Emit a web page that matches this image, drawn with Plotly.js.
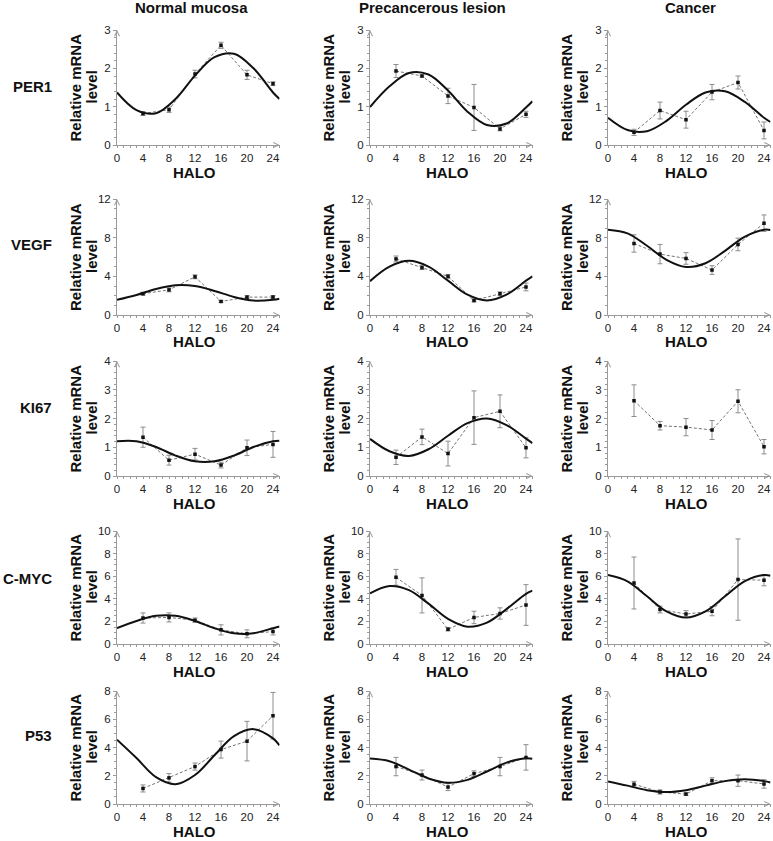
<!DOCTYPE html>
<html>
<head>
<meta charset="utf-8">
<script src="https://cdn.plot.ly/plotly-3.0.1.min.js"></script>
<style>html,body{margin:0;padding:0;background:#fff;}#chart{width:773px;height:841px;}</style>
</head>
<body>
<div id="chart"></div>
<script>
// ---------- data ----------
const hours = [4, 8, 12, 16, 20, 24];
const fitHours = [0, 3, 6, 9, 12, 15, 18, 21, 24, 25];
const xTickLabels = [0, 4, 8, 12, 16, 20, 24];
const columnTitles = ["Normal mucosa", "Precancerous lesion", "Cancer"];
const geneLabels = ["PER1", "VEGF", "KI67", "C-MYC", "P53"];

// PER1
const per1Normal = [0.82, 0.92, 1.85, 2.60, 1.83, 1.60];
const per1NormalErr = [0.05, 0.07, 0.10, 0.08, 0.12, 0.05];
const per1NormalFit = [1.37, 0.91, 0.83, 1.20, 1.81, 2.29, 2.38, 2.00, 1.37, 1.20];
const per1Pre = [1.93, 1.80, 1.28, 0.98, 0.42, 0.80];
const per1PreErr = [0.17, 0.03, 0.20, 0.60, 0.05, 0.08];
const per1PreFit = [0.99, 1.53, 1.88, 1.84, 1.42, 0.87, 0.52, 0.56, 0.98, 1.14];
const per1Cancer = [0.33, 0.90, 0.66, 1.38, 1.63, 0.38];
const per1CancerErr = [0.08, 0.22, 0.22, 0.20, 0.17, 0.22];
const per1CancerFit = [0.71, 0.39, 0.36, 0.63, 1.05, 1.37, 1.40, 1.13, 0.71, 0.60];

// VEGF
const vegfNormal = [2.20, 2.60, 3.95, 1.40, 1.85, 1.85];
const vegfNormalErr = [0.15, 0.20, 0.20, 0.10, 0.15, 0.15];
const vegfNormalFit = [1.57, 2.07, 2.69, 3.07, 2.99, 2.49, 1.87, 1.49, 1.57, 1.68];
const vegfPre = [5.80, 4.90, 4.00, 1.50, 2.20, 2.90];
const vegfPreErr = [0.30, 0.20, 0.20, 0.15, 0.20, 0.40];
const vegfPreFit = [3.50, 5.00, 5.60, 5.00, 3.55, 2.10, 1.50, 2.10, 3.55, 4.00];
const vegfCancer = [7.40, 6.30, 5.85, 4.65, 7.30, 9.50];
const vegfCancerErr = [0.90, 1.00, 0.60, 0.45, 0.65, 0.85];
const vegfCancerFit = [8.83, 8.45, 7.16, 5.71, 4.97, 5.35, 6.64, 8.09, 8.83, 8.80];

// KI67
const ki67Normal = [1.35, 0.55, 0.76, 0.38, 0.98, 1.10];
const ki67NormalErr = [0.35, 0.17, 0.20, 0.10, 0.27, 0.45];
const ki67NormalFit = [1.21, 1.21, 1.01, 0.71, 0.51, 0.51, 0.71, 1.01, 1.21, 1.23];
const ki67Pre = [0.65, 1.36, 0.78, 2.03, 2.25, 0.98];
const ki67PreErr = [0.25, 0.27, 0.43, 0.93, 0.57, 0.35];
const ki67PreFit = [1.29, 0.86, 0.70, 0.93, 1.40, 1.84, 2.00, 1.77, 1.30, 1.14];
const ki67Cancer = [2.62, 1.75, 1.70, 1.60, 2.60, 1.02];
const ki67CancerErr = [0.55, 0.15, 0.30, 0.33, 0.40, 0.25];
const ki67CancerFit = null;

// C-MYC
const mycNormal = [2.30, 2.35, 2.10, 1.25, 0.90, 1.10];
const mycNormalErr = [0.45, 0.40, 0.20, 0.45, 0.35, 0.30];
const mycNormalFit = [1.40, 2.04, 2.49, 2.49, 2.04, 1.40, 0.95, 0.95, 1.40, 1.55];
const mycPre = [5.90, 4.30, 1.30, 2.35, 2.70, 3.45];
const mycPreErr = [0.70, 1.55, 0.15, 0.55, 0.50, 1.80];
const mycPreFit = [4.48, 5.13, 4.77, 3.57, 2.22, 1.53, 1.89, 3.09, 4.44, 4.72];
const mycCancer = [5.40, 3.05, 2.65, 2.90, 5.70, 5.65];
const mycCancerErr = [2.30, 0.30, 0.30, 0.40, 3.60, 0.50];
const mycCancerFit = [6.10, 5.55, 4.22, 2.89, 2.34, 2.89, 4.22, 5.55, 6.10, 6.04];

// P53
const p53Normal = [1.10, 1.85, 2.65, 3.85, 4.45, 6.25];
const p53NormalErr = [0.25, 0.30, 0.25, 0.60, 1.40, 1.65];
const p53NormalFit = [4.55, 3.25, 1.90, 1.40, 2.05, 3.45, 4.80, 5.30, 4.65, 4.15];
const p53Pre = [2.65, 2.05, 1.20, 2.15, 2.65, 3.30];
const p53PreErr = [0.65, 0.35, 0.25, 0.20, 0.65, 0.90];
const p53PreFit = [3.22, 3.03, 2.44, 1.81, 1.50, 1.71, 2.30, 2.93, 3.24, 3.20];
const p53Cancer = [1.40, 0.85, 0.70, 1.65, 1.65, 1.42];
const p53CancerErr = [0.20, 0.15, 0.10, 0.20, 0.40, 0.30];
const p53CancerFit = [1.60, 1.30, 0.98, 0.85, 0.98, 1.30, 1.62, 1.75, 1.62, 1.52];

const yMaxByRow = [3, 12, 4, 10, 8];
const yDtickByRow = [1, 4, 1, 2, 2];
const yMinorByRow = [0.2, 1, 0.2, 0.5, 0.5];

// panels row-major
const panels = [
  [per1Normal, per1NormalErr, per1NormalFit], [per1Pre, per1PreErr, per1PreFit], [per1Cancer, per1CancerErr, per1CancerFit],
  [vegfNormal, vegfNormalErr, vegfNormalFit], [vegfPre, vegfPreErr, vegfPreFit], [vegfCancer, vegfCancerErr, vegfCancerFit],
  [ki67Normal, ki67NormalErr, ki67NormalFit], [ki67Pre, ki67PreErr, ki67PreFit], [ki67Cancer, ki67CancerErr, ki67CancerFit],
  [mycNormal, mycNormalErr, mycNormalFit], [mycPre, mycPreErr, mycPreFit], [mycCancer, mycCancerErr, mycCancerFit],
  [p53Normal, p53NormalErr, p53NormalFit], [p53Pre, p53PreErr, p53PreFit], [p53Cancer, p53CancerErr, p53CancerFit]
];

// ---------- layout geometry (pixels) ----------
const W = 773, H = 841;
const colX0 = [117, 370, 608];
const plotW = 162.5;
const rowTop = [30, 199, 361, 531, 691];
const rowBot = [145, 315, 476, 644, 804];
const colTitleX = [191, 432, 690];
const rowLabelY = [87, 245, 407, 578, 735];

const axisColor = '#9a9a9a';
const tickFont = {family: 'Liberation Sans, Arial, sans-serif', size: 11.5, color: '#222'};
const boldFont = {family: 'Liberation Sans, Arial, sans-serif', size: 15, color: '#111'};

const traces = [];
const layout = {
  width: W, height: H,
  margin: {l: 0, r: 0, t: 0, b: 0},
  paper_bgcolor: '#fff', plot_bgcolor: '#fff',
  showlegend: false,
  annotations: []
};

panels.forEach((p, i) => {
  const r = Math.floor(i / 3), c = i % 3;
  const id = i === 0 ? '' : String(i + 1);
  const [vals, err, fit] = p;
  traces.push({
    x: hours, y: vals, type: 'scatter', mode: 'lines+markers',
    xaxis: 'x' + id, yaxis: 'y' + id,
    line: {color: '#747474', width: 1, dash: '3px,2px'},
    marker: {symbol: 'square', size: 3.5, color: '#111'},
    error_y: {type: 'data', array: err, visible: true, color: '#8c8c8c', thickness: 1, width: 2.5},
    hoverinfo: 'skip'
  });
  if (fit) {
    traces.push({
      x: fitHours, y: fit, type: 'scatter', mode: 'lines',
      xaxis: 'x' + id, yaxis: 'y' + id,
      line: {color: '#111', width: 2, shape: 'spline', smoothing: 1},
      hoverinfo: 'skip'
    });
  }
  const x0 = colX0[c] / W, x1 = (colX0[c] + plotW) / W;
  const y0 = 1 - rowBot[r] / H, y1 = 1 - rowTop[r] / H;
  layout['xaxis' + id] = {
    domain: [x0, x1], range: [0, 25], anchor: 'y' + id,
    tickvals: xTickLabels, ticktext: xTickLabels.map(String),
    ticks: 'outside', ticklen: 2, tickcolor: axisColor, tickwidth: 1,
    showline: true, linecolor: axisColor, linewidth: 1,
    showgrid: false, zeroline: false, tickfont: tickFont,
    minor: {dtick: 1, ticks: 'outside', ticklen: 2, tickcolor: axisColor, showgrid: false},
    fixedrange: true
  };
  layout['yaxis' + id] = {
    domain: [y0, y1], range: [0, yMaxByRow[r]], anchor: 'x' + id,
    dtick: yDtickByRow[r], tick0: 0,
    ticks: 'outside', ticklen: 3, tickcolor: axisColor, tickwidth: 1,
    showline: true, linecolor: axisColor, linewidth: 1,
    showgrid: false, zeroline: false, tickfont: tickFont,
    minor: {dtick: yMinorByRow[r], ticks: 'outside', ticklen: 2, tickcolor: axisColor, showgrid: false},
    fixedrange: true
  };
  // axis arrowheads
  layout.annotations.push({
    text: '', xref: 'x' + id, yref: 'y' + id, x: 25, y: 0,
    showarrow: true, arrowhead: 5, arrowsize: 1, arrowwidth: 1, arrowcolor: axisColor,
    ax: -4, ay: 0
  });
  layout.annotations.push({
    text: '', xref: 'x' + id, yref: 'y' + id, x: 0, y: yMaxByRow[r],
    showarrow: true, arrowhead: 5, arrowsize: 1, arrowwidth: 1, arrowcolor: axisColor,
    ax: 0, ay: 4
  });
  // y axis title (two lines)
  const midY = 1 - ((rowTop[r] + rowBot[r]) / 2) / H;
  layout.annotations.push({
    text: '<b>Relative mRNA</b>', xref: 'paper', yref: 'paper',
    x: (colX0[c] - 42) / W, y: midY, xanchor: 'center', yanchor: 'middle',
    textangle: -90, showarrow: false, font: boldFont
  });
  layout.annotations.push({
    text: '<b>level</b>', xref: 'paper', yref: 'paper',
    x: (colX0[c] - 26) / W, y: midY, xanchor: 'center', yanchor: 'middle',
    textangle: -90, showarrow: false, font: boldFont
  });
  // x axis title
  layout.annotations.push({
    text: '<b>HALO</b>', xref: 'paper', yref: 'paper',
    x: (colX0[c] + 78) / W, y: 1 - (rowBot[r] + 27) / H,
    xanchor: 'center', yanchor: 'middle', showarrow: false, font: boldFont
  });
});

columnTitles.forEach((t, c) => {
  layout.annotations.push({
    text: '<b>' + t + '</b>', xref: 'paper', yref: 'paper',
    x: colTitleX[c] / W, y: 1 - 8 / H, xanchor: 'center', yanchor: 'middle',
    showarrow: false, font: boldFont
  });
});
geneLabels.forEach((g, r) => {
  layout.annotations.push({
    text: '<b>' + g + '</b>', xref: 'paper', yref: 'paper',
    x: 54 / W, y: 1 - rowLabelY[r] / H, xanchor: 'right', yanchor: 'middle',
    showarrow: false, font: {family: boldFont.family, size: 15, color: '#111'}
  });
});

Plotly.newPlot('chart', traces, layout, {staticPlot: true, displayModeBar: false});
</script>
</body>
</html>
